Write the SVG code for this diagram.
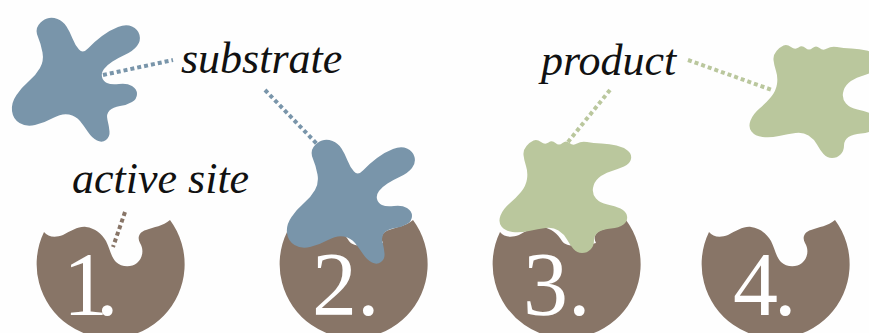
<svg xmlns="http://www.w3.org/2000/svg" width="869" height="333" viewBox="0 0 869 333">
  <style>
    .label { font-family: "Liberation Serif", "Times New Roman", serif; font-style: italic; font-size: 44px; fill: #111; }
    .num { font-family: "Liberation Serif", "Times New Roman", serif; font-size: 90px; fill: #fff; }
    .enzyme { fill: #887567; }
    .substrate { fill: #7995aa; }
    .product { fill: #bac79d; }
    .dots { fill: none; stroke-width: 4; stroke-dasharray: 4 3; }
  </style>
  <defs>
    <!-- enzyme body: circle with a wavy top and an open active-site pocket, centred on (0,0) -->
    <path id="enzyme-shape" d="M-67,-31 C-63,-26 -56,-25 -48,-28 C-40,-32 -32,-37 -25,-36 C-16,-35 -9,-29 -5,-22 C-1,-14 0,-6 5,-1 C10,4 20,5 26,0 C32,-5 33,-14 29,-20 C26,-25 28,-31 35,-33 C43,-36 52,-37 59,-43 A74 74 0 1 1 -67,-31 Z"/>
    <!-- enzyme body with its pocket occupied (pocket filled in, covered by the bound molecule) -->
    <path id="enzyme-bound" d="M-67,-31 C-63,-26 -56,-25 -48,-28 C-40,-32 -32,-37 -25,-36 C-16,-35 -9,-29 -5,-22 C0,-14 20,-18 29,-20 C26,-25 28,-31 35,-33 C43,-36 52,-37 59,-43 A74 74 0 1 1 -67,-31 Z"/>
    <!-- substrate molecule outline -->
    <path id="substrate-shape" d="M38.5,25 Q42,20 47,18.5 Q52,17 57.5,19 Q63,21 66.5,26.5 Q70,32 72.5,38.5 Q75,45 79,49.5 Q83,54 88.5,48 Q94,42 102,36 Q110,30 118,27 Q126,24 132,26.5 Q138,29 139.5,35 Q141,41 137,46 Q133,51 125.5,54.5 Q118,58 112.5,61.5 Q107,65 104,69 Q101,73 102,77 Q103,81 107,83 Q111,85 119,84 Q127,83 132,86 Q137,89 137,94 Q137,99 132,102 Q127,105 120,106 Q113,107 109.5,110.5 Q106,114 107.5,120 Q109,126 109.5,131.5 Q110,137 106,140 Q102,143 97,140.5 Q92,138 88,132 Q84,126 80,121 Q76,116 69,114.5 Q62,113 53,118 Q44,123 35,125 Q26,127 19.5,123 Q13,119 12,111 Q11,103 16.5,95 Q22,87 29,81 Q36,75 40,68 Q44,61 42.5,52.5 Q41,44 38,37 Q35,30 38.5,25 Z"/>
    <!-- product molecule outline -->
    <path id="product-shape" d="M526.5,146 Q530,142 533.5,140.5 Q537,139 541,142 Q545,145 548.5,142.5 Q552,140 555.5,143 Q559,146 562.5,143 Q566,140 569.5,143 Q573,146 577,143.5 Q581,141 587,142 Q593,143 601.5,143.5 Q610,144 616.5,145.5 Q623,147 627.5,150.5 Q632,154 631,159 Q630,164 624,166.5 Q618,169 610.5,171.5 Q603,174 598.5,178 Q594,182 593,188 Q592,194 596,198.5 Q600,203 607.5,204.5 Q615,206 620.5,208.5 Q626,211 627,216 Q628,221 623.5,224.5 Q619,228 611,228.5 Q603,229 598.5,232 Q594,235 594,240.5 Q594,246 590.5,249.5 Q587,253 582,253 Q577,253 573.5,249 Q570,245 567,239.5 Q564,234 558.5,230.5 Q553,227 545.5,228 Q538,229 529,231 Q520,233 512.5,232 Q505,231 501.5,226.5 Q498,222 500.5,215.5 Q503,209 509.5,203.5 Q516,198 521,192 Q526,186 527,179 Q528,172 526,166 Q524,160 523.5,155 Q523,150 526.5,146 Z"/>
  </defs>

  <rect width="869" height="333" fill="#fefefe"/>

  <!-- dotted leader lines -->
  <g id="connectors" class="dots">
    <line x1="103" y1="75" x2="173" y2="60" stroke="#7995aa"/>
    <line x1="265" y1="90" x2="317" y2="144" stroke="#7995aa"/>
    <line x1="125" y1="212" x2="113" y2="247" stroke="#887567"/>
    <line x1="610" y1="90" x2="568" y2="142" stroke="#bac79d"/>
    <line x1="688" y1="60" x2="772" y2="90" stroke="#bac79d"/>
  </g>

  <g id="substrate-free">
    <use href="#substrate-shape" class="substrate"/>
  </g>

  <g id="step-1">
    <use href="#enzyme-shape" class="enzyme" transform="translate(111,263)"/>
    <text class="num" x="63" y="315" letter-spacing="-12">1.</text>
  </g>

  <g id="step-2">
    <use href="#enzyme-bound" class="enzyme" transform="translate(354,263)"/>
    <use href="#substrate-shape" class="substrate" transform="translate(275,122)"/>
    <text class="num" x="312" y="315">2.</text>
  </g>

  <g id="step-3">
    <use href="#enzyme-bound" class="enzyme" transform="translate(567,263)"/>
    <use href="#product-shape" class="product"/>
    <text class="num" x="523" y="315">3.</text>
  </g>

  <g id="step-4">
    <use href="#enzyme-shape" class="enzyme" transform="translate(776,263)"/>
    <text class="num" x="733" y="315" letter-spacing="-4">4.</text>
  </g>

  <g id="product-free">
    <use href="#product-shape" class="product" transform="translate(250,-95)"/>
  </g>

  <g id="labels">
    <text class="label" x="181" y="73">substrate</text>
    <text class="label" x="72" y="193">active site</text>
    <text class="label" x="541" y="75">product</text>
  </g>
</svg>
